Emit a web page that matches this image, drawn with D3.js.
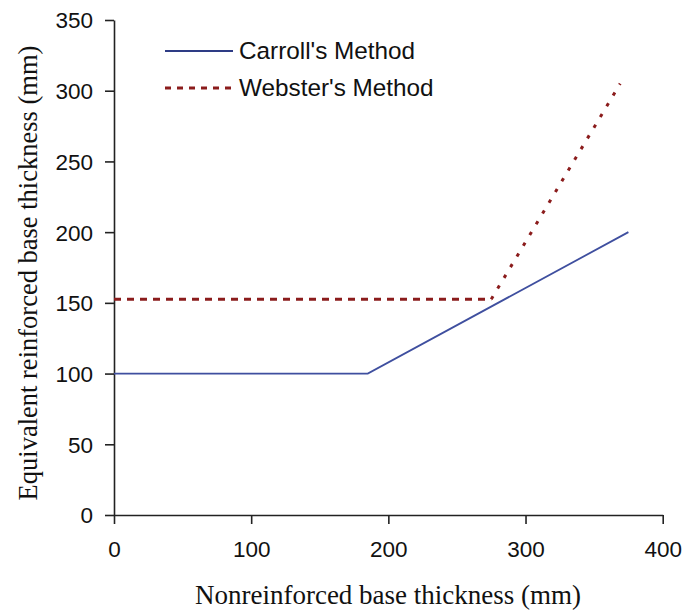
<!DOCTYPE html>
<html>
<head>
<meta charset="utf-8">
<script src="https://cdn.jsdelivr.net/npm/d3@7"></script>
<style>
  html, body { margin: 0; padding: 0; background: #fff; }
  svg { display: block; }
</style>
</head>
<body>
<svg id="chart" width="685" height="611"></svg>
<script>
// ---- data ----
const xTicks = [0, 100, 200, 300, 400];
const yTicks = [0, 50, 100, 150, 200, 250, 300, 350];
const seriesNames = ["Carroll's Method", "Webster's Method"];
const carrollX = [0, 185, 375];
const carrollY = [100, 100, 200];
const websterX = [0, 275, 369];
const websterY = [152.5, 152.5, 305];
const xTitle = "Nonreinforced base thickness (mm)";
const yTitle = "Equivalent reinforced base thickness (mm)";

// ---- layout ----
const svg = d3.select("#chart");
const x = d3.scaleLinear().domain([0, 400]).range([114, 662.7]);
const y = d3.scaleLinear().domain([0, 350]).range([515, 20]);

const tickFont = "'Liberation Sans', Arial, sans-serif";
const serifFont = "'Liberation Serif', 'Times New Roman', serif";

// axes
const xAxis = svg.append("g").attr("transform", `translate(0,${y(0)})`)
  .call(d3.axisBottom(x).tickValues(xTicks).tickSize(9).tickPadding(17).tickSizeOuter(0));
const yAxis = svg.append("g").attr("transform", `translate(${x(0)},0)`)
  .call(d3.axisLeft(y).tickValues(yTicks).tickSize(9).tickPadding(12).tickSizeOuter(0));

[xAxis, yAxis].forEach(g => {
  g.select(".domain").attr("stroke", "#222").attr("stroke-width", 1.6);
  g.selectAll(".tick line").attr("stroke", "#222").attr("stroke-width", 1.6);
  g.selectAll(".tick text").attr("fill", "#111")
    .style("font-family", tickFont).style("font-size", "22.5px");
});
yAxis.selectAll(".tick text").attr("dy", "0.35em");

// lines
const line = d3.line().x(d => x(d[0])).y(d => y(d[1]));
const carroll = carrollX.map((v, i) => [v, carrollY[i]]);
const webster = websterX.map((v, i) => [v, websterY[i]]);

svg.append("path").datum(carroll).attr("d", line)
  .attr("fill", "none").attr("stroke", "#3f4f9f").attr("stroke-width", 1.8);
// Webster: flat part drawn with dashes, rising part appears as dots in the reference
svg.append("path").datum(webster.slice(0, 2)).attr("d", line)
  .attr("fill", "none").attr("stroke", "#8b1c1c").attr("stroke-width", 3)
  .attr("stroke-dasharray", "7,6");
svg.append("path").datum(webster.slice(1)).attr("d", line)
  .attr("fill", "none").attr("stroke", "#8b1c1c").attr("stroke-width", 3)
  .attr("stroke-dasharray", "3.5,9");

// legend
const legend = [
  { name: seriesNames[0], ly: 51, ty: 58.5, stroke: "#2e3c85", w: 1.8, dash: null },
  { name: seriesNames[1], ly: 88, ty: 95.5, stroke: "#8b1c1c", w: 3, dash: "6,6" }
];
legend.forEach(l => {
  svg.append("line").attr("x1", 165).attr("x2", 233).attr("y1", l.ly).attr("y2", l.ly)
    .attr("stroke", l.stroke).attr("stroke-width", l.w)
    .attr("stroke-dasharray", l.dash);
  svg.append("text").attr("x", 239).attr("y", l.ty).text(l.name)
    .attr("fill", "#111").style("font-family", tickFont).style("font-size", "24.3px");
});

// axis titles
svg.append("text").attr("x", 388).attr("y", 604)
  .attr("text-anchor", "middle").text(xTitle)
  .attr("fill", "#111").style("font-family", serifFont).style("font-size", "27px");
svg.append("text")
  .attr("transform", `translate(37,273) rotate(-90)`)
  .attr("text-anchor", "middle").text(yTitle)
  .attr("fill", "#111").style("font-family", serifFont).style("font-size", "26.5px");
</script>
</body>
</html>
